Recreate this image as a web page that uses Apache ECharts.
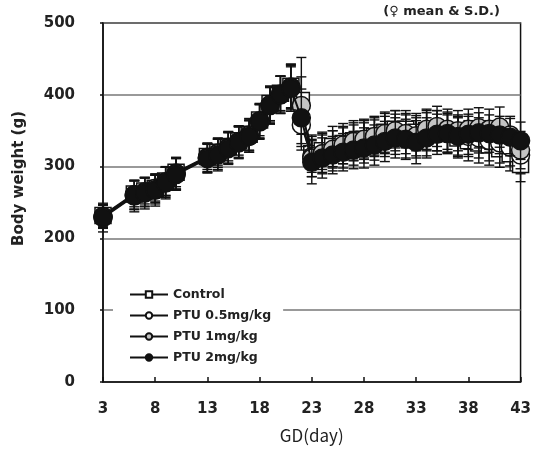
<!DOCTYPE html>
<html>
<head>
<meta charset="utf-8">
<script src="https://cdn.jsdelivr.net/npm/echarts@6/dist/echarts.min.js"></script>
<style>html,body{margin:0;padding:0;background:#fff}#c{width:534px;height:454px}</style>
</head>
<body>
<div id="c"></div>
<script>
// ---- data ----
var days = [3,6,7,8,9,10,13,14,15,16,17,18,19,20,21,22,23,24,25,26,27,28,29,30,31,32,33,34,35,36,37,38,39,40,41,42,43];
var seriesNames = ['Control', 'PTU 0.5mg/kg', 'PTU 1mg/kg', 'PTU 2mg/kg'];
var controlMean = [232,262,266,270,280,292,314,320,328,336,345,365,388,402,412,392,
  318,322,328,332,336,338,342,348,352,352,348,350,350,346,340,336,333,330,325,318,303];
var ptu05Mean = [231,261,265,270,279,291,313,319,327,335,344,364,386,401,411,358,
  314,318,322,326,330,333,337,342,345,342,340,345,350,348,344,342,340,336,333,327,316];
var ptu1Mean = [230,260,264,268,278,290,312,318,326,334,342,363,386,400,410,385,
  312,318,324,330,335,338,342,346,350,346,343,352,356,352,350,352,354,352,355,344,323];
var ptu2Mean = [229,259,263,267,277,289,311,316,325,333,342,362,385,400,409,368,
  306,312,316,320,323,326,330,335,340,338,334,340,345,346,342,345,347,346,344,341,336];
var controlSD = [15,18,18,18,20,20,18,18,20,20,22,22,24,24,30,60,
  26,26,28,28,28,28,26,28,26,26,26,28,28,26,28,28,28,28,26,24,24];
var ptu05SD = [16,20,20,20,20,22,20,20,22,22,22,24,24,25,30,35,
  28,28,28,28,28,28,28,28,28,30,28,30,28,28,28,28,28,28,28,26,26];
var ptu1SD = [16,20,20,20,21,22,20,22,22,22,22,24,26,26,33,40,
  26,26,26,26,26,26,28,28,28,28,28,28,28,28,28,28,28,28,28,26,26];
var ptu2SD = [20,22,22,22,22,22,20,22,22,22,22,24,26,26,30,40,
  30,28,26,26,26,28,28,28,28,28,30,28,28,28,28,28,28,26,26,26,26];
var yTicks = [0,100,200,300,400,500];
var xTicks = [3,8,13,18,23,28,33,38,43];

// ---- chart ----
var means = [controlMean, ptu05Mean, ptu1Mean, ptu2Mean];
var sds = [controlSD, ptu05SD, ptu1SD, ptu2SD];
var symbols = ['rect', 'circle', 'circle', 'circle'];
var fills = ['#ffffff', '#ffffff', '#c4c4c4', '#111111'];
var sizes = [16, 18, 18, 18];

function errData(m, s) {
  return days.map(function (d, i) { return [d, m[i] - s[i], m[i] + s[i]]; });
}
function renderErr(params, api) {
  var x = api.value(0);
  var lo = api.coord([x, api.value(1)]);
  var hi = api.coord([x, api.value(2)]);
  var cw = 5;
  var st = { stroke: '#111', lineWidth: 1.4 };
  return {
    type: 'group',
    children: [
      { type: 'line', shape: { x1: lo[0], y1: lo[1], x2: hi[0], y2: hi[1] }, style: st },
      { type: 'line', shape: { x1: lo[0] - cw, y1: lo[1], x2: lo[0] + cw, y2: lo[1] }, style: st },
      { type: 'line', shape: { x1: hi[0] - cw, y1: hi[1], x2: hi[0] + cw, y2: hi[1] }, style: st }
    ]
  };
}

var series = [];
for (var k = 0; k < 4; k++) {
  series.push({
    type: 'custom',
    name: seriesNames[k] + ' SD',
    renderItem: renderErr,
    data: errData(means[k], sds[k]),
    z: 2 + k * 2,
    silent: true
  });
  series.push({
    type: 'line',
    name: seriesNames[k],
    data: days.map(function (d, i) { return [d, means[k][i]]; }),
    symbol: symbols[k],
    symbolSize: sizes[k],
    showAllSymbol: true,
    lineStyle: { color: '#111', width: 2 },
    itemStyle: { color: fills[k], borderColor: '#111', borderWidth: 1.5 },
    z: 3 + k * 2,
    animation: false
  });
}

var chart = echarts.init(document.getElementById('c'));
chart.setOption({
  animation: false,
  backgroundColor: '#ffffff',
  grid: { left: 103, right: 12, top: 23, bottom: 72, show: true, borderColor: '#111', borderWidth: 1.5, backgroundColor: 'transparent' },
  legend: {
    data: seriesNames,
    orient: 'vertical',
    left: 113,
    top: 285,
    itemWidth: 38,
    itemHeight: 8,
    itemGap: 8,
    padding: [3, 12, 3, 16],
    backgroundColor: '#ffffff',
    textStyle: { fontFamily: 'DejaVu Sans', fontWeight: 'bold', fontSize: 12.5, color: '#222' }
  },
  xAxis: {
    type: 'value',
    min: xTicks[0],
    max: xTicks[xTicks.length - 1],
    interval: 5,
    name: 'GD(day)',
    nameLocation: 'middle',
    nameGap: 45,
    nameTextStyle: { fontFamily: 'Noto Sans CJK JP', fontSize: 17, color: '#222' },
    axisLine: { lineStyle: { color: '#111', width: 1.5 } },
    axisTick: { inside: true, length: 5, lineStyle: { color: '#111', width: 1.5 } },
    axisLabel: { margin: 20, fontFamily: 'DejaVu Sans', fontWeight: 'bold', fontSize: 15, color: '#222' },
    splitLine: { show: false }
  },
  yAxis: {
    type: 'value',
    min: yTicks[0],
    max: yTicks[yTicks.length - 1],
    interval: 100,
    axisLine: { show: true, lineStyle: { color: '#111', width: 1.5 } },
    axisTick: { show: true, inside: false, length: 3, lineStyle: { color: '#111', width: 1.5 } },
    axisLabel: { margin: 28, fontFamily: 'DejaVu Sans', fontWeight: 'bold', fontSize: 15, color: '#222' },
    splitLine: { show: true, lineStyle: { color: '#777', width: 1.5 } }
  },
  graphic: [
    { type: 'text', left: 12, top: 111, rotation: Math.PI / 2,
      style: { text: 'Body weight (g)', fontFamily: 'DejaVu Sans', fontSize: 15, fontWeight: 'bold', fill: '#222' } },
    { type: 'text', right: 34, top: 5,
      style: { text: '(♀ mean & S.D.)', fontFamily: 'DejaVu Sans', fontSize: 13, fontWeight: 'bold', fill: '#222' } }
  ],
  series: series
});
</script>
</body>
</html>
